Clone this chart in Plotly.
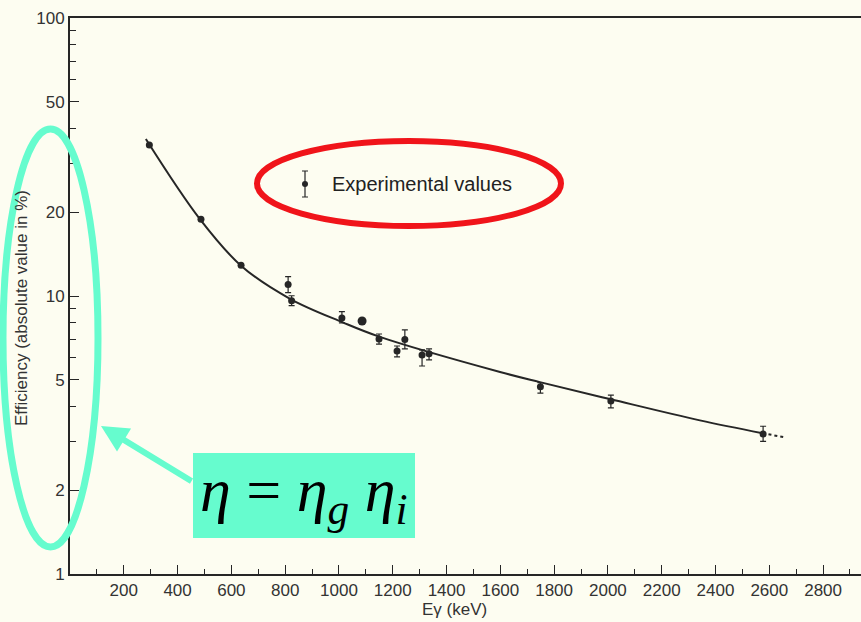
"""Efficiency vs gamma energy — scanned figure with annotations."""

import plotly.graph_objects as go

# ── measured points ──
energy_kev = [295, 487, 636, 811, 824, 1011, 1086, 1149, 1216, 1245, 1309, 1335, 1749, 2011, 2577]
efficiency = [34.9, 18.9, 12.9, 11.0, 9.62, 8.33, 8.13, 7.0, 6.34, 6.97, 6.13, 6.2, 4.72, 4.19, 3.19]
err_plus = [0, 0, 0, 0.75, 0.40, 0.45, 0, 0.30, 0.27, 0.58, 0.27, 0.25, 0.16, 0.21, 0.21]
err_minus = [0, 0, 0, 0.71, 0.38, 0.33, 0, 0.29, 0.30, 0.52, 0.53, 0.31, 0.25, 0.23, 0.19]

# ── fitted curve ──
curve_kev = [282, 483, 638, 818, 1014, 1152, 1599, 1747, 2011, 2342, 2575]
curve_eff = [36.7, 18.9, 12.8, 9.77, 8.04, 7.13, 5.33, 4.90, 4.25, 3.57, 3.21]
tail_kev = [2575, 2658]
tail_eff = [3.21, 3.10]

x_ticks = list(range(200, 3000, 200))
x_minor = list(range(100, 3000, 200))
y_ticks = [1, 2, 5, 10, 20, 50, 100]
y_minor = [3, 4, 6, 7, 8, 9, 30, 40, 60, 70, 80, 90]

INK = "#262626"
CYAN = "#66fcce"
RED = "#f0141a"
BG = "#fdfdf1"
FONT = "Liberation Sans"

W, H = 861, 622
L, R, T, B = 70, 0, 18, 48


def px(x):
    return (x - L) / (W - L - R)


def py(y):
    return (H - B - y) / (H - T - B)


def note(x, y, text, size, xanchor="center", family=FONT, color="#333", angle=0):
    fig.add_annotation(
        x=px(x), y=py(y), xref="paper", yref="paper",
        xanchor=xanchor, yanchor="middle", textangle=angle,
        text=text, showarrow=False,
        font=dict(family=family, size=size, color=color),
    )


fig = go.Figure()

fig.add_trace(go.Scatter(
    x=curve_kev, y=curve_eff, mode="lines", line_shape="spline",
    line=dict(color=INK, width=2), hoverinfo="skip", showlegend=False,
))
fig.add_trace(go.Scatter(
    x=tail_kev, y=tail_eff, mode="lines",
    line=dict(color=INK, width=2, dash="3px,3px"), hoverinfo="skip", showlegend=False,
))
marker_sizes = [7] * len(energy_kev)
marker_sizes[energy_kev.index(1086)] = 9
fig.add_trace(go.Scatter(
    x=energy_kev, y=efficiency, mode="markers",
    marker=dict(color=INK, size=marker_sizes, opacity=1, line=dict(width=0)),
    error_y=dict(type="data", symmetric=False, array=err_plus, arrayminus=err_minus,
                 color=INK, thickness=1.2, width=3),
    showlegend=False,
))

# legend key (on an overlay axis in paper-like units)
fig.add_trace(go.Scatter(
    x=[px(305)], y=[py(184)], mode="markers", xaxis="x2", yaxis="y2",
    marker=dict(color=INK, size=6),
    error_y=dict(type="data", array=[py(171) - py(184)], color=INK, thickness=1.2, width=3),
    showlegend=False, hoverinfo="skip",
))

note(330, 184, "Experimental values", 20, xanchor="left", color="#222")
note(21, 308, "Efficiency (absolute value in %)", 17, angle=-90)
note(454, 609, "Eγ (keV)", 17)

# ── highlights ──
fig.add_shape(type="circle", xref="paper", yref="paper",
              x0=px(257), x1=px(561), y0=py(226), y1=py(141),
              line=dict(color=RED, width=6))
fig.add_shape(type="circle", xref="paper", yref="paper",
              x0=px(3), x1=px(98), y0=py(547), y1=py(129),
              line=dict(color=CYAN, width=7))
fig.add_shape(type="rect", xref="paper", yref="paper",
              x0=px(193), x1=px(415), y0=py(538), y1=py(453),
              fillcolor=CYAN, line=dict(width=0))
fig.add_annotation(
    x=px(101), y=py(426), xref="paper", yref="paper",
    ax=92, ay=56, text="", showarrow=True,
    arrowhead=2, arrowsize=0.9, arrowwidth=6, arrowcolor=CYAN,
)
note(304, 494,
     "<i>η</i> = <i>η</i><sub><i>g</i></sub> <i>η</i><sub><i>i</i></sub>",
     62, family="Liberation Serif", color="black")

fig.update_layout(
    width=W, height=H,
    margin=dict(l=L, r=R, t=T, b=B, autoexpand=False),
    paper_bgcolor=BG, plot_bgcolor=BG,
    xaxis=dict(
        range=[0, 2941], tickvals=x_ticks, ticks="inside", ticklen=9, tickwidth=1.2,
        tickcolor=INK, showgrid=False, zeroline=False, automargin=False,
        showline=True, linecolor=INK, linewidth=2, mirror=True,
        tickfont=dict(family=FONT, size=17, color="#333"),
        minor=dict(tickvals=x_minor, ticks="inside", ticklen=5, tickcolor=INK, showgrid=False),
    ),
    yaxis=dict(
        type="log", range=[0, 2], tickvals=y_ticks, ticks="inside", ticklen=9, tickwidth=1.2,
        tickcolor=INK, showgrid=False, zeroline=False, automargin=False,
        showline=True, linecolor=INK, linewidth=2,
        tickfont=dict(family=FONT, size=17, color="#333"),
        minor=dict(tickvals=y_minor, ticks="inside", ticklen=6, tickcolor=INK, showgrid=False),
    ),
    xaxis2=dict(range=[0, 1], overlaying="x", visible=False),
    yaxis2=dict(range=[0, 1], overlaying="y", visible=False),
    showlegend=False,
)

fig.write_html(
    "out.html",
    config={"displayModeBar": False},
    post_script=f"document.body.style.margin='0';document.body.style.background='{BG}';",
)
